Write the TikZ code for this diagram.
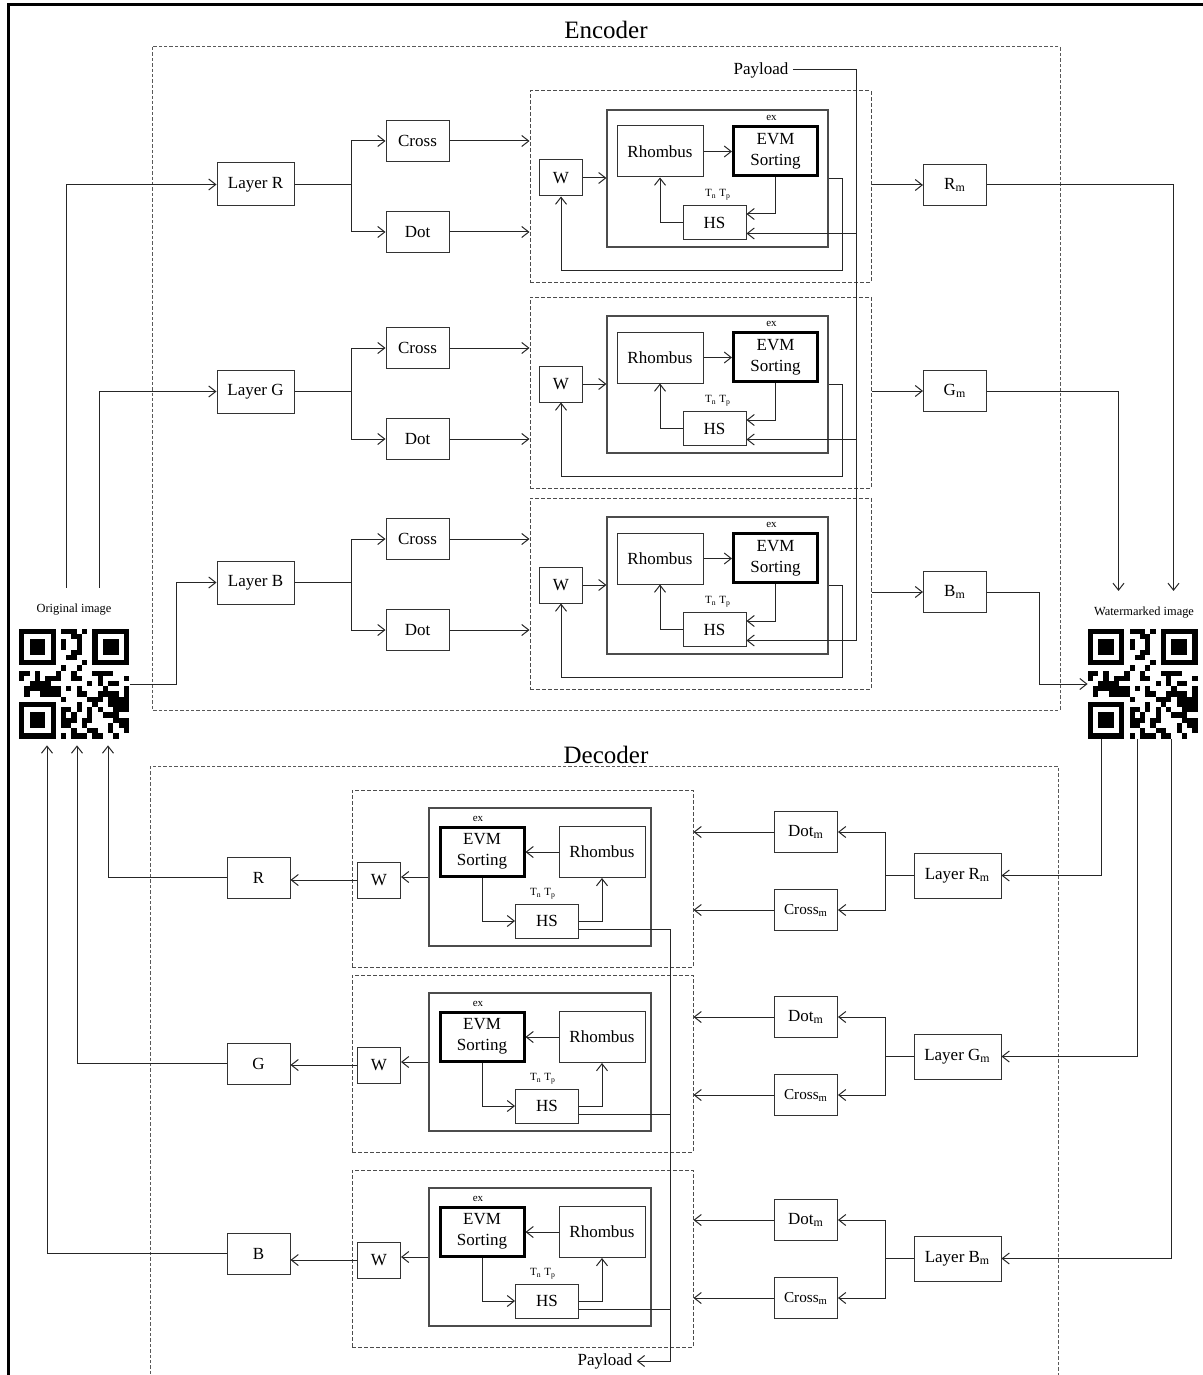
\documentclass[tikz,border=0pt]{standalone}
\usepackage{fontspec}
\setmainfont{Liberation Serif}
\usepackage{tikz}
\usetikzlibrary{arrows.meta, positioning, calc}

\tikzset{
  blk/.style={draw=black!80, line width=0.5pt, inner sep=0pt, align=center,
              font=\fontsize{8.5}{10.5}\selectfont},
  layerbox/.style={blk, minimum width=38.5pt, minimum height=21.5pt},
  mlayerbox/.style={blk, minimum width=43.5pt, minimum height=22.5pt},
  smallbox/.style={blk, minimum width=31.5pt, minimum height=20.5pt},
  wbox/.style={blk, minimum width=21.5pt, minimum height=18pt},
  rhombox/.style={blk, minimum width=43pt, minimum height=25.5pt},
  evmbox/.style={blk, draw=black, line width=1.5pt, minimum width=42pt, minimum height=24.5pt},
  hsbox/.style={blk, minimum width=31.5pt, minimum height=17pt},
  innerbox/.style={draw=black!70, line width=0.6pt, inner sep=0pt},
  modbox/.style={draw=black!70, line width=0.5pt, dash pattern=on 2pt off 1pt, inner sep=0pt},
  partbox/.style={draw=black!65, line width=0.5pt, dash pattern=on 1.7pt off 1pt},
  conn/.style={draw=black!85, line width=0.5pt},
  arr/.style={conn, -{Straight Barb[length=3.5pt,width=5.5pt]}},
  tinytext/.style={inner sep=0pt, font=\fontsize{5.5}{6}\selectfont},
  imglabel/.style={inner sep=0pt, font=\fontsize{6.2}{7}\selectfont},
  payload/.style={inner sep=2pt, font=\fontsize{8.5}{10}\selectfont},
  ttl/.style={inner sep=0pt, font=\fontsize{12.5}{14}\selectfont},
  qrbox/.style={minimum size=55pt, inner sep=0pt},
}

% 21x21 modules, drawn from the north west corner
\newcommand\qrmodules{%
  \pgfmathsetseed{1203}%
  \foreach \i in {0,...,20} {
    \foreach \j in {0,...,20} {
      \pgfmathtruncatemacro\qrfree{((\i<8 && \j<8) || (\i<8 && \j>12) || (\i>12 && \j<8)) ? 0 : 1}
      \pgfmathtruncatemacro\qrbit{rnd<0.5 ? 1 : 0}
      \ifnum\qrfree\qrbit=11 \fill (\j,\i) rectangle ++(1,1);\fi
    }
  }
  \foreach \a/\b in {0/0,14/0,0/14} {
    \fill (\a,\b) rectangle ++(7,7);
    \fill[white] (\a+1,\b+1) rectangle ++(5,5);
    \fill (\a+2,\b+2) rectangle ++(3,3);
  }
}

\begin{document}
\begin{tikzpicture}[x=0.5pt, y=-0.5pt]
\useasboundingbox (0,0) rectangle (1203,1375);
\clip (0,0) rectangle (1203,1375);

\draw[line width=1.5pt] (8,1400) -- (8,5) -- (1220,5);

% encoder
\node[ttl] (enc) at (606,30) {Encoder};
\draw[partbox] (152,47) rectangle (1060,710);

\node[payload] (PayE) at (761,70) {Payload};
\coordinate (ptop) at (856,70);

\foreach \c/\dl/\dm in {R/0/0, G/207/206, B/398/407} {
  \node[layerbox] (L\c) at (255.5,{184.5+\dl}) {Layer \c};
  \node[smallbox] (Cr\c) at (417.5,{141+\dl}) {Cross};
  \node[smallbox] (Dt\c) at (417.5,{232+\dl}) {Dot};
  \node[modbox, minimum width=170.5pt, minimum height=95.5pt] (M\c) at (700.5,{186.5+\dm}) {};
  \node[innerbox, minimum width=110.5pt, minimum height=68.5pt] (I\c) at (717.5,{178.5+\dm}) {};
  \node[wbox] (W\c) at (561,{178+\dm}) {W};
  \node[rhombox] (Rh\c) at (660,{151.5+\dm}) {Rhombus};
  \node[evmbox] (Ev\c) at (775.5,{151+\dm}) {EVM\\Sorting};
  \node[hsbox] (HS\c) at (714.5,{222.5+\dm}) {HS};
  \node[tinytext, above=2pt of Ev\c, xshift=-2pt] (ex\c) {ex};
  \node[tinytext, above=2pt of HS\c, xshift=1.75pt] (tn\c) {T\textsubscript{n} T\textsubscript{p}};
  \node[smallbox] (O\c) at (955,{185+\dm}) {\c\textsubscript{m}};

  \draw[conn] (L\c.east) -- ++(57,0) coordinate (br\c);
  \draw[arr] (br\c) |- (Cr\c.west);
  \draw[arr] (br\c) |- (Dt\c.west);
  \draw[arr] (Cr\c.east) -- (Cr\c.east -| M\c.west);
  \draw[arr] (Dt\c.east) -- (Dt\c.east -| M\c.west);
  \draw[arr] (W\c.east) -- (W\c.east -| I\c.west);
  \draw[arr] (Rh\c.east) -- (Rh\c.east -| Ev\c.west);
  \coordinate (ein\c) at ([yshift=4.25pt]HS\c.east);
  \draw[arr] (Ev\c.south) |- (ein\c);
  \draw[arr] (HS\c.west) -| (Rh\c.south);
  \coordinate (pin\c) at ([yshift=-5.5pt]HS\c.east);
  \draw[arr] (pin\c -| ptop) -- (pin\c);
  \draw[arr] (I\c.east) -- ++(14,0) -- ++(0,92) -| (W\c.south);
  \draw[arr] (O\c.west -| M\c.east) -- (O\c.west);
}
\coordinate (pend) at (pinB -| ptop);
\draw[conn] (PayE.east) -| (pend);

% images
\node[imglabel] (olab) at (74,610) {Original image};
\node[qrbox] (qrin) at (74.5,684) {};
\begin{scope}[shift={(qrin.north west)}, x=2.619pt, y=-2.619pt]
  \qrmodules
\end{scope}
\node[imglabel] (wlab) at (1144,613) {Watermarked image};
\node[qrbox] (qrout) at (1143,684) {};
\begin{scope}[shift={(qrout.north west)}, x=2.619pt, y=-2.619pt]
  \qrmodules
\end{scope}

\draw[arr] ([xshift=-3.75pt,yshift=8pt]olab.north) |- (LR.west);
\draw[arr] ([xshift=12.75pt,yshift=8pt]olab.north) |- (LG.west);
\draw[arr] (qrin.east) -| ([xshift=-20pt]LB.west) -- (LB.west);

\draw[arr] (OR.east) -| ([xshift=14.75pt,yshift=8pt]wlab.north);
\draw[arr] (OG.east) -| ([xshift=-12.75pt,yshift=8pt]wlab.north);
\draw[arr] (OB.east) -| ([xshift=-24pt]qrout.west) -- (qrout.west);

% decoder
\node[ttl] (dec) at (606,755) {Decoder};
\draw[partbox] (150,766) rectangle (1058,1400);

\node[payload] (PayD) at (605,1361) {Payload};
\coordinate (pbot) at (670,1361);

\foreach \c/\dm/\dr/\dl/\dn in {R/0/0/0/0, G/185/185/181/186, B/380/388/383/376} {
  \node[mlayerbox] (LM\c) at (957.5,{875.5+\dl}) {Layer \c\textsubscript{m}};
  \node[smallbox] (DM\c) at (806,{832+\dr}) {Dot\textsubscript{m}};
  \node[smallbox, font=\fontsize{7.6}{9}\selectfont] (CM\c) at (806,{910+\dr}) {Cross\textsubscript{m}};
  \node[modbox, minimum width=170.5pt, minimum height=88.5pt] (N\c) at (522.5,{878.5+\dm}) {};
  \node[innerbox, minimum width=111pt, minimum height=69pt] (J\c) at (540,{877+\dm}) {};
  \node[evmbox] (EvD\c) at (482,{851.5+\dm}) {EVM\\Sorting};
  \node[rhombox] (RhD\c) at (602,{852+\dm}) {Rhombus};
  \node[hsbox] (HSD\c) at (547,{921+\dm}) {HS};
  \node[tinytext, above=2pt of EvD\c, xshift=-2pt] (exD\c) {ex};
  \node[tinytext, above=2pt of HSD\c, xshift=-2pt] (tnD\c) {T\textsubscript{n} T\textsubscript{p}};
  \node[wbox] (WD\c) at (379,{880+\dm}) {W};
  \node[smallbox] (X\c) at (258.5,{877.5+\dn}) {\c};

  \draw[conn] (LM\c.west) -- ++(-28,0) coordinate (db\c);
  \draw[arr] (db\c) |- (DM\c.east);
  \draw[arr] (db\c) |- (CM\c.east);
  \draw[arr] (DM\c.west) -- (DM\c.west -| N\c.east);
  \draw[arr] (CM\c.west) -- (CM\c.west -| N\c.east);
  \draw[arr] (RhD\c.west) -- (RhD\c.west -| EvD\c.east);
  \draw[arr] (EvD\c.south) |- (HSD\c.west);
  \draw[arr] (HSD\c.east) -| (RhD\c.south);
  \coordinate (pout\c) at ([yshift=-4pt]HSD\c.east);
  \draw[conn] (pout\c) -- (pout\c -| pbot);
  \draw[arr] (J\c.west) -- (J\c.west -| WD\c.east);
  \draw[arr] (WD\c.west) -- (WD\c.west -| X\c.east);
}
\draw[arr] (poutR -| pbot) -- (pbot) -- (PayD.east);

\draw[arr] ([xshift=-21pt]qrout.south) |- (LMR.east);
\draw[arr] ([xshift=-3pt]qrout.south) |- (LMG.east);
\draw[arr] ([xshift=14pt]qrout.south) |- (LMB.east);

\draw[arr] (XR.west) -| ([xshift=16.75pt,yshift=-3pt]qrin.south);
\draw[arr] (XG.west) -| ([xshift=1.25pt,yshift=-3pt]qrin.south);
\draw[arr] (XB.west) -| ([xshift=-13.75pt,yshift=-3pt]qrin.south);
\end{tikzpicture}
\end{document}
